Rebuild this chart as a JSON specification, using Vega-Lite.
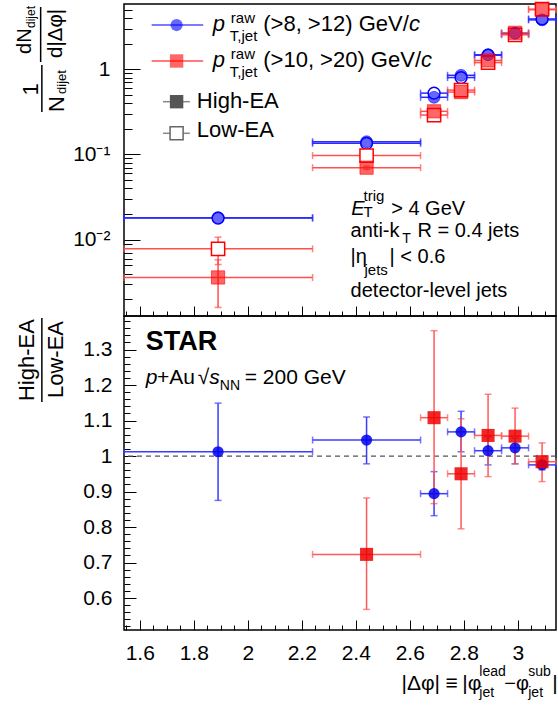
{
  "$schema": "https://vega.github.io/schema/vega-lite/v6.json",
  "background": "white",
  "padding": {"left": 14, "top": -2, "right": 0, "bottom": 0},
  "spacing": 0,
  "bounds": "flush",
  "config": {
    "font": "Liberation Sans",
    "view": {"stroke": "#000", "strokeWidth": 1.5},
    "axis": {"domain": false, "grid": false, "tickColor": "#000", "tickWidth": 1, "labelFont": "Liberation Sans", "labelFontSize": 21, "labelColor": "#000", "labelOverlap": false, "labelFlush": false, "labelBound": false, "labelSeparation": -100},
    "text": {"font": "Liberation Sans", "fontSize": 20, "align": "left", "baseline": "alphabetic", "color": "#000"}
  },
  "datasets": {
    "top": [
      {"s":"b","ea":"High","x":1.89,"xlo":1.5416,"xhi":2.24,"y":0.0181,"ylo":0.0176,"yhi":0.0186},
      {"s":"b","ea":"High","x":2.44,"xlo":2.24,"xhi":2.64,"y":0.141,"ylo":0.138,"yhi":0.144},
      {"s":"b","ea":"High","x":2.69,"xlo":2.64,"xhi":2.74,"y":0.469,"ylo":0.46,"yhi":0.478},
      {"s":"b","ea":"High","x":2.79,"xlo":2.74,"xhi":2.84,"y":0.85,"ylo":0.835,"yhi":0.865},
      {"s":"b","ea":"High","x":2.89,"xlo":2.84,"xhi":2.94,"y":1.48,"ylo":1.46,"yhi":1.5},
      {"s":"b","ea":"High","x":2.99,"xlo":2.94,"xhi":3.04,"y":2.65,"ylo":2.62,"yhi":2.68},
      {"s":"b","ea":"High","x":3.09,"xlo":3.04,"xhi":3.1416,"y":3.8,"ylo":3.76,"yhi":3.84},
      {"s":"b","ea":"Low","x":1.89,"xlo":1.5416,"xhi":2.24,"y":0.0179,"ylo":0.0174,"yhi":0.0184},
      {"s":"b","ea":"Low","x":2.44,"xlo":2.24,"xhi":2.64,"y":0.135,"ylo":0.132,"yhi":0.138},
      {"s":"b","ea":"Low","x":2.69,"xlo":2.64,"xhi":2.74,"y":0.525,"ylo":0.515,"yhi":0.535},
      {"s":"b","ea":"Low","x":2.79,"xlo":2.74,"xhi":2.84,"y":0.8,"ylo":0.786,"yhi":0.814},
      {"s":"b","ea":"Low","x":2.89,"xlo":2.84,"xhi":2.94,"y":1.46,"ylo":1.44,"yhi":1.48},
      {"s":"b","ea":"Low","x":2.99,"xlo":2.94,"xhi":3.04,"y":2.59,"ylo":2.56,"yhi":2.62},
      {"s":"b","ea":"Low","x":3.09,"xlo":3.04,"xhi":3.1416,"y":3.9,"ylo":3.86,"yhi":3.94},
      {"s":"r","ea":"High","x":1.89,"xlo":1.5416,"xhi":2.24,"y":0.0036,"ylo":0.0016,"yhi":0.0058},
      {"s":"r","ea":"High","x":2.44,"xlo":2.24,"xhi":2.64,"y":0.07,"ylo":0.067,"yhi":0.073},
      {"s":"r","ea":"High","x":2.69,"xlo":2.64,"xhi":2.74,"y":0.321,"ylo":0.313,"yhi":0.329},
      {"s":"r","ea":"High","x":2.79,"xlo":2.74,"xhi":2.84,"y":0.54,"ylo":0.528,"yhi":0.552},
      {"s":"r","ea":"High","x":2.89,"xlo":2.84,"xhi":2.94,"y":1.27,"ylo":1.25,"yhi":1.29},
      {"s":"r","ea":"High","x":2.99,"xlo":2.94,"xhi":3.04,"y":2.68,"ylo":2.65,"yhi":2.71},
      {"s":"r","ea":"High","x":3.09,"xlo":3.04,"xhi":3.1416,"y":5.0,"ylo":4.94,"yhi":5.06},
      {"s":"r","ea":"Low","x":1.89,"xlo":1.5416,"xhi":2.24,"y":0.0078,"ylo":0.0051,"yhi":0.0107},
      {"s":"r","ea":"Low","x":2.44,"xlo":2.24,"xhi":2.64,"y":0.097,"ylo":0.094,"yhi":0.1},
      {"s":"r","ea":"Low","x":2.69,"xlo":2.64,"xhi":2.74,"y":0.29,"ylo":0.283,"yhi":0.297},
      {"s":"r","ea":"Low","x":2.79,"xlo":2.74,"xhi":2.84,"y":0.57,"ylo":0.558,"yhi":0.582},
      {"s":"r","ea":"Low","x":2.89,"xlo":2.84,"xhi":2.94,"y":1.2,"ylo":1.18,"yhi":1.22},
      {"s":"r","ea":"Low","x":2.99,"xlo":2.94,"xhi":3.04,"y":2.54,"ylo":2.51,"yhi":2.57},
      {"s":"r","ea":"Low","x":3.09,"xlo":3.04,"xhi":3.1416,"y":5.08,"ylo":5.02,"yhi":5.14}
    ],
    "bot": [
      {"s":"b","x":1.89,"xlo":1.5416,"xhi":2.24,"y":1.012,"ylo":0.875,"yhi":1.149},
      {"s":"b","x":2.44,"xlo":2.24,"xhi":2.64,"y":1.045,"ylo":0.978,"yhi":1.11},
      {"s":"b","x":2.69,"xlo":2.64,"xhi":2.74,"y":0.894,"ylo":0.832,"yhi":0.956},
      {"s":"b","x":2.79,"xlo":2.74,"xhi":2.84,"y":1.068,"ylo":1.012,"yhi":1.126},
      {"s":"b","x":2.89,"xlo":2.84,"xhi":2.94,"y":1.015,"ylo":0.975,"yhi":1.054},
      {"s":"b","x":2.99,"xlo":2.94,"xhi":3.04,"y":1.023,"ylo":0.978,"yhi":1.05},
      {"s":"b","x":3.09,"xlo":3.04,"xhi":3.1416,"y":0.975,"ylo":0.961,"yhi":0.987},
      {"s":"r","x":2.44,"xlo":2.24,"xhi":2.64,"y":0.723,"ylo":0.568,"yhi":0.882},
      {"s":"r","x":2.69,"xlo":2.64,"xhi":2.74,"y":1.108,"ylo":0.866,"yhi":1.353},
      {"s":"r","x":2.79,"xlo":2.74,"xhi":2.84,"y":0.95,"ylo":0.795,"yhi":1.105},
      {"s":"r","x":2.89,"xlo":2.84,"xhi":2.94,"y":1.058,"ylo":0.942,"yhi":1.174},
      {"s":"r","x":2.99,"xlo":2.94,"xhi":3.04,"y":1.056,"ylo":0.978,"yhi":1.135},
      {"s":"r","x":3.09,"xlo":3.04,"xhi":3.1416,"y":0.984,"ylo":0.928,"yhi":1.037}
    ]
  },
  "vconcat": [
    {
      "width": 432,
      "height": 312,
      "data": {"name": "top"},
      "layer": [
        {
          "mark": {"type": "errorbar", "ticks": true, "size": 7, "thickness": 1.5},
          "encoding": {
            "x": {"field": "xlo", "type": "quantitative", "title": null,
                  "scale": {"domain": [1.5416, 3.1416], "nice": false, "zero": false},
                  "axis": {"title": null, "labels": false, "tickCount": 500, "labelOverlap": false, "labelFlush": false,
                           "values": [1.55,1.6,1.65,1.7,1.75,1.8,1.85,1.9,1.95,2,2.05,2.1,2.15,2.2,2.25,2.3,2.35,2.4,2.45,2.5,2.55,2.6,2.65,2.7,2.75,2.8,2.85,2.9,2.95,3,3.05,3.1],
                           "tickSize": {"condition": {"test": "abs(datum.value*5-round(datum.value*5))<0.001", "value": -10}, "value": -5}}},
            "x2": {"field": "xhi"},
            "y": {"field": "y", "type": "quantitative", "title": null,
                  "scale": {"type": "log", "domain": [0.00127, 5.84], "nice": false},
                  "axis": {"title": null, "tickCount": 500, "labelOverlap": false, "labelFlush": false, "labelSeparation": -100,
                           "values": [0.002,0.003,0.004,0.005,0.006,0.007,0.008,0.009,0.01,0.02,0.03,0.04,0.05,0.06,0.07,0.08,0.09,0.1,0.2,0.3,0.4,0.5,0.6,0.7,0.8,0.9,1,2,3,4,5],
                           "tickSize": {"condition": {"test": "datum.value==1||datum.value==0.1||datum.value==0.01", "value": -16}, "value": -8},
                           "labelFontSize": {"condition": {"test": "datum.value==1||datum.value==0.1||datum.value==0.01", "value": 21}, "value": 1},
                           "labelBaseline": {"condition": {"test": "datum.value==1||datum.value==0.1||datum.value==0.01", "value": "middle"}, "value": "top"},
                           "labelPadding": 30,
                           "labelExpr": "datum.value==1?'1':datum.value==0.1?'10⁻¹':datum.value==0.01?'10⁻²':''"}},
            "color": {"condition": {"test": "datum.s=='b'", "value": "#2b2bff"}, "value": "#ff5050"}
          }
        },
        {
          "mark": {"type": "errorbar", "ticks": true, "size": 7, "thickness": 1.5},
          "encoding": {
            "x": {"field": "x", "type": "quantitative", "title": null},
            "y": {"field": "ylo", "type": "quantitative", "title": null},
            "y2": {"field": "yhi"},
            "color": {"condition": {"test": "datum.s=='b'", "value": "#2b2bff"}, "value": "#ff5050"}
          }
        },
        {
          "transform": [{"filter": "datum.ea=='Low'"}],
          "mark": {"type": "point", "filled": true, "fill": "white", "strokeWidth": 1.5, "opacity": 1},
          "encoding": {
            "x": {"field": "x", "type": "quantitative", "title": null},
            "y": {"field": "y", "type": "quantitative", "title": null},
            "stroke": {"condition": {"test": "datum.s=='b'", "value": "#0000ff"}, "value": "#ff0000"},
            "shape": {"condition": {"test": "datum.s=='b'", "value": "circle"}, "value": "square"},
            "size": {"condition": {"test": "datum.s=='b'", "value": 140}, "value": 175}
          }
        },
        {
          "transform": [{"filter": "datum.ea=='High'"}],
          "mark": {"type": "point", "filled": true, "fillOpacity": 0.6, "strokeOpacity": 0.6, "strokeWidth": 1, "opacity": 1},
          "encoding": {
            "x": {"field": "x", "type": "quantitative", "title": null},
            "y": {"field": "y", "type": "quantitative", "title": null},
            "fill": {"condition": {"test": "datum.s=='b'", "value": "#0000ff"}, "value": "#ff0000"},
            "stroke": {"condition": {"test": "datum.s=='b'", "value": "#0000ff"}, "value": "#ff0000"},
            "shape": {"condition": {"test": "datum.s=='b'", "value": "circle"}, "value": "square"},
            "size": {"condition": {"test": "datum.s=='b'", "value": 140}, "value": 175}
          }
        },
        {"data": {"values": [{}]}, "mark": {"type": "rule", "color": "#7b7bff", "strokeWidth": 2}, "encoding": {"x": {"datum": 1.644}, "x2": {"datum": 1.8348}, "y": {"datum": 3.31}}},
        {"data": {"values": [{}]}, "mark": {"type": "point", "shape": "circle", "filled": true, "color": "#0000ff", "opacity": 0.6, "size": 150}, "encoding": {"x": {"datum": 1.7364}, "y": {"datum": 3.31}}},
        {"data": {"values": [{}]}, "mark": {"type": "rule", "color": "#ff7b7b", "strokeWidth": 2}, "encoding": {"x": {"datum": 1.644}, "x2": {"datum": 1.8348}, "y": {"datum": 1.2515}}},
        {"data": {"values": [{}]}, "mark": {"type": "point", "shape": "square", "filled": true, "color": "#ff0000", "opacity": 0.6, "size": 180}, "encoding": {"x": {"datum": 1.7364}, "y": {"datum": 1.2515}}},
        {"data": {"values": [{}]}, "mark": {"type": "rule", "color": "#888888", "strokeWidth": 1.5}, "encoding": {"x": {"datum": 1.6858}, "x2": {"datum": 1.7856}, "y": {"datum": 0.4166}}},
        {"data": {"values": [{}]}, "mark": {"type": "point", "shape": "square", "filled": true, "color": "#555555", "opacity": 1, "size": 180}, "encoding": {"x": {"datum": 1.7364}, "y": {"datum": 0.4166}}},
        {"data": {"values": [{}]}, "mark": {"type": "rule", "color": "#888888", "strokeWidth": 1.5}, "encoding": {"x": {"datum": 1.6858}, "x2": {"datum": 1.7856}, "y": {"datum": 0.1773}}},
        {"data": {"values": [{}]}, "mark": {"type": "point", "shape": "square", "filled": true, "fill": "white", "stroke": "#666666", "strokeWidth": 1.5, "opacity": 1, "size": 170}, "encoding": {"x": {"datum": 1.7364}, "y": {"datum": 0.1773}}},
        {"data": {"values": [{}]}, "mark": {"type": "text", "text": "p", "fontSize": 22, "fontStyle": "italic"}, "encoding": {"x": {"datum": 1.8706}, "y": {"datum": 2.815}}},
        {"data": {"values": [{}]}, "mark": {"type": "text", "text": "raw", "fontSize": 15}, "encoding": {"x": {"datum": 1.9372}, "y": {"datum": 3.494}}},
        {"data": {"values": [{}]}, "mark": {"type": "text", "text": "T,jet", "fontSize": 15}, "encoding": {"x": {"datum": 1.9335}, "y": {"datum": 2.148}}},
        {"data": {"values": [{}]}, "mark": {"type": "text", "text": "(>8, >12) GeV/", "fontSize": 22}, "encoding": {"x": {"datum": 2.0573}, "y": {"datum": 2.815}}},
        {"data": {"values": [{}]}, "mark": {"type": "text", "text": "c", "fontSize": 22, "fontStyle": "italic"}, "encoding": {"x": {"datum": 2.5971}, "y": {"datum": 2.815}}},
        {"data": {"values": [{}]}, "mark": {"type": "text", "text": "p", "fontSize": 22, "fontStyle": "italic"}, "encoding": {"x": {"datum": 1.8706}, "y": {"datum": 1.064}}},
        {"data": {"values": [{}]}, "mark": {"type": "text", "text": "raw", "fontSize": 15}, "encoding": {"x": {"datum": 1.9372}, "y": {"datum": 1.321}}},
        {"data": {"values": [{}]}, "mark": {"type": "text", "text": "T,jet", "fontSize": 15}, "encoding": {"x": {"datum": 1.9335}, "y": {"datum": 0.812}}},
        {"data": {"values": [{}]}, "mark": {"type": "text", "text": "(>10, >20) GeV/", "fontSize": 22}, "encoding": {"x": {"datum": 2.0573}, "y": {"datum": 1.064}}},
        {"data": {"values": [{}]}, "mark": {"type": "text", "text": "c", "fontSize": 22, "fontStyle": "italic"}, "encoding": {"x": {"datum": 2.6414}, "y": {"datum": 1.064}}},
        {"data": {"values": [{}]}, "mark": {"type": "text", "text": "High-EA", "fontSize": 22}, "encoding": {"x": {"datum": 1.8115}, "y": {"datum": 0.3513}}},
        {"data": {"values": [{}]}, "mark": {"type": "text", "text": "Low-EA", "fontSize": 22}, "encoding": {"x": {"datum": 1.8115}, "y": {"datum": 0.1618}}},
        {"data": {"values": [{}]}, "mark": {"type": "text", "text": "E", "fontStyle": "italic"}, "encoding": {"x": {"datum": 2.3834}, "y": {"datum": 0.0195}}},
        {"data": {"values": [{}]}, "mark": {"type": "text", "text": "trig", "fontSize": 15}, "encoding": {"x": {"datum": 2.4289}, "y": {"datum": 0.02846}}},
        {"data": {"values": [{}]}, "mark": {"type": "text", "text": "T", "fontSize": 15}, "encoding": {"x": {"datum": 2.4289}, "y": {"datum": 0.01822}}},
        {"data": {"values": [{}]}, "mark": {"type": "text", "text": "> 4 GeV"}, "encoding": {"x": {"datum": 2.5312}, "y": {"datum": 0.0195}}},
        {"data": {"values": [{}]}, "mark": {"type": "text", "text": "anti-k"}, "encoding": {"x": {"datum": 2.3808}, "y": {"datum": 0.01067}}},
        {"data": {"values": [{}]}, "mark": {"type": "text", "text": "T", "fontSize": 14}, "encoding": {"x": {"datum": 2.5719}, "y": {"datum": 0.009024}}},
        {"data": {"values": [{}]}, "mark": {"type": "text", "text": "R = 0.4 jets"}, "encoding": {"x": {"datum": 2.6285}, "y": {"datum": 0.01067}}},
        {"data": {"values": [{}]}, "mark": {"type": "text", "text": "|η"}, "encoding": {"x": {"datum": 2.3808}, "y": {"datum": 0.00533}}},
        {"data": {"values": [{}]}, "mark": {"type": "text", "text": "jets", "fontSize": 15}, "encoding": {"x": {"datum": 2.4324}, "y": {"datum": 0.003851}}},
        {"data": {"values": [{}]}, "mark": {"type": "text", "text": "| < 0.6"}, "encoding": {"x": {"datum": 2.525}, "y": {"datum": 0.00533}}},
        {"data": {"values": [{}]}, "mark": {"type": "text", "text": "detector-level jets"}, "encoding": {"x": {"datum": 2.3808}, "y": {"datum": 0.002143}}},
        {"data": {"values": [{}]}, "mark": {"type": "text", "text": "dN", "fontSize": 20, "angle": 270}, "encoding": {"x": {"datum": 1.1977}, "y": {"datum": 1.512}}},
        {"data": {"values": [{}]}, "mark": {"type": "text", "text": "dijet", "fontSize": 12, "angle": 270}, "encoding": {"x": {"datum": 1.2107}, "y": {"datum": 3.053}}},
        {"data": {"values": [{}]}, "mark": {"type": "rule", "color": "#000", "strokeWidth": 1.5}, "encoding": {"x": {"datum": 1.2329}, "y": {"datum": 5.385}, "y2": {"datum": 1.218}}},
        {"data": {"values": [{}]}, "mark": {"type": "text", "text": "d|Δφ|", "fontSize": 20.5, "angle": 270}, "encoding": {"x": {"datum": 1.3105}, "y": {"datum": 1.357}}},
        {"data": {"values": [{}]}, "mark": {"type": "text", "text": "1", "fontSize": 22, "angle": 270}, "encoding": {"x": {"datum": 1.2237}, "y": {"datum": 0.4926}}},
        {"data": {"values": [{}]}, "mark": {"type": "rule", "color": "#000", "strokeWidth": 1.5}, "encoding": {"x": {"datum": 1.2374}, "y": {"datum": 1.123}, "y2": {"datum": 0.3153}}},
        {"data": {"values": [{}]}, "mark": {"type": "text", "text": "N", "fontSize": 22, "angle": 270}, "encoding": {"x": {"datum": 1.3179}, "y": {"datum": 0.3153}}},
        {"data": {"values": [{}]}, "mark": {"type": "text", "text": "dijet", "fontSize": 13, "angle": 270}, "encoding": {"x": {"datum": 1.3272}, "y": {"datum": 0.5129}}}
      ]
    },
    {
      "width": 432,
      "height": 314,
      "data": {"name": "bot"},
      "layer": [
        {"data": {"values": [{}]}, "mark": {"type": "rule", "strokeDash": [5, 4], "color": "#555555", "strokeWidth": 1.2}, "encoding": {"y": {"datum": 1}}},
        {
          "mark": {"type": "errorbar", "ticks": true, "size": 7, "thickness": 1.5},
          "encoding": {
            "x": {"field": "xlo", "type": "quantitative", "title": null,
                  "scale": {"domain": [1.5416, 3.1416], "nice": false, "zero": false},
                  "axis": {"title": null, "tickCount": 500, "labelOverlap": false, "labelFlush": false, "labelBound": false, "labelSeparation": -100,
                           "values": [1.55,1.6,1.65,1.7,1.75,1.8,1.85,1.9,1.95,2,2.05,2.1,2.15,2.2,2.25,2.3,2.35,2.4,2.45,2.5,2.55,2.6,2.65,2.7,2.75,2.8,2.85,2.9,2.95,3,3.05,3.1],
                           "tickSize": {"condition": {"test": "abs(datum.value*5-round(datum.value*5))<0.001", "value": -10}, "value": -5},
                           "labelFontSize": {"condition": {"test": "abs(datum.value*5-round(datum.value*5))<0.001", "value": 21}, "value": 1},
                           "labelPadding": 22,
                           "labelExpr": "abs(datum.value*5-round(datum.value*5))<0.001 ? ('' + datum.value) : ''"}},
            "x2": {"field": "xhi"},
            "y": {"field": "y", "type": "quantitative", "title": null,
                  "scale": {"domain": [0.51, 1.3944], "nice": false, "zero": false},
                  "axis": {"title": null, "tickCount": 500, "labelOverlap": false, "labelFlush": false, "labelBound": false, "labelSeparation": -100,
                           "values": [0.52,0.54,0.56,0.58,0.6,0.62,0.64,0.66,0.68,0.7,0.72,0.74,0.76,0.78,0.8,0.82,0.84,0.86,0.88,0.9,0.92,0.94,0.96,0.98,1,1.02,1.04,1.06,1.08,1.1,1.12,1.14,1.16,1.18,1.2,1.22,1.24,1.26,1.28,1.3,1.32,1.34,1.36,1.38],
                           "tickSize": {"condition": {"test": "abs(datum.value*10-round(datum.value*10))<0.001", "value": -12}, "value": -6},
                           "labelFontSize": {"condition": {"test": "abs(datum.value*10-round(datum.value*10))<0.001", "value": 21}, "value": 1},
                           "labelPadding": 24,
                           "labelExpr": "abs(datum.value*10-round(datum.value*10))<0.001 ? ('' + datum.value) : ''"}},
            "color": {"condition": {"test": "datum.s=='b'", "value": "#3b3bff"}, "value": "#ff5a5a"}
          }
        },
        {
          "mark": {"type": "errorbar", "ticks": true, "size": 7, "thickness": 1.5},
          "encoding": {
            "x": {"field": "x", "type": "quantitative", "title": null},
            "y": {"field": "ylo", "type": "quantitative", "title": null},
            "y2": {"field": "yhi"},
            "color": {"condition": {"test": "datum.s=='b'", "value": "#3b3bff"}, "value": "#ff5a5a"}
          }
        },
        {
          "mark": {"type": "point", "filled": true, "opacity": 0.85, "strokeWidth": 0},
          "encoding": {
            "x": {"field": "x", "type": "quantitative", "title": null},
            "y": {"field": "y", "type": "quantitative", "title": null},
            "fill": {"condition": {"test": "datum.s=='b'", "value": "#0000ee"}, "value": "#ee0000"},
            "shape": {"condition": {"test": "datum.s=='b'", "value": "circle"}, "value": "square"},
            "size": {"condition": {"test": "datum.s=='b'", "value": 125}, "value": 170}
          }
        },
        {"data": {"values": [{}]}, "mark": {"type": "text", "text": "STAR", "fontSize": 27, "fontWeight": "bold"}, "encoding": {"x": {"datum": 1.6218}, "y": {"datum": 1.2986}}},
        {"data": {"values": [{}]}, "mark": {"type": "text", "text": "p", "fontSize": 21, "fontStyle": "italic"}, "encoding": {"x": {"datum": 1.6218}, "y": {"datum": 1.2028}}},
        {"data": {"values": [{}]}, "mark": {"type": "text", "text": "+Au", "fontSize": 21}, "encoding": {"x": {"datum": 1.6636}, "y": {"datum": 1.2028}}},
        {"data": {"values": [{}]}, "mark": {"type": "text", "text": "√", "fontSize": 21}, "encoding": {"x": {"datum": 1.8152}, "y": {"datum": 1.2028}}},
        {"data": {"values": [{}]}, "mark": {"type": "text", "text": "s", "fontSize": 21, "fontStyle": "italic"}, "encoding": {"x": {"datum": 1.8577}, "y": {"datum": 1.2028}}},
        {"data": {"values": [{}]}, "mark": {"type": "text", "text": "NN", "fontSize": 14}, "encoding": {"x": {"datum": 1.8965}, "y": {"datum": 1.1859}}},
        {"data": {"values": [{}]}, "mark": {"type": "text", "text": "= 200 GeV", "fontSize": 21}, "encoding": {"x": {"datum": 1.9889}, "y": {"datum": 1.2028}}},
        {"data": {"values": [{}]}, "mark": {"type": "text", "text": "High-EA", "fontSize": 22, "angle": 270}, "encoding": {"x": {"datum": 1.207}, "y": {"datum": 1.1549}}},
        {"data": {"values": [{}]}, "mark": {"type": "rule", "color": "#000", "strokeWidth": 1.5}, "encoding": {"x": {"datum": 1.2374}, "y": {"datum": 1.3887}, "y2": {"datum": 1.1521}}},
        {"data": {"values": [{}]}, "mark": {"type": "text", "text": "Low-EA", "fontSize": 22, "angle": 270}, "encoding": {"x": {"datum": 1.3154}, "y": {"datum": 1.1634}}},
        {"data": {"values": [{}]}, "mark": {"type": "text", "text": "|Δφ|", "fontSize": 21}, "encoding": {"x": {"datum": 2.5693}, "y": {"datum": 0.3408}}},
        {"data": {"values": [{}]}, "mark": {"type": "text", "text": "≡", "fontSize": 21}, "encoding": {"x": {"datum": 2.732}, "y": {"datum": 0.3408}}},
        {"data": {"values": [{}]}, "mark": {"type": "text", "text": "|φ", "fontSize": 21}, "encoding": {"x": {"datum": 2.7948}, "y": {"datum": 0.3408}}},
        {"data": {"values": [{}]}, "mark": {"type": "text", "text": "lead", "fontSize": 14}, "encoding": {"x": {"datum": 2.8577}, "y": {"datum": 0.3803}}},
        {"data": {"values": [{}]}, "mark": {"type": "text", "text": "jet", "fontSize": 14}, "encoding": {"x": {"datum": 2.8577}, "y": {"datum": 0.3211}}},
        {"data": {"values": [{}]}, "mark": {"type": "text", "text": "−φ", "fontSize": 20}, "encoding": {"x": {"datum": 2.9501}, "y": {"datum": 0.3408}}},
        {"data": {"values": [{}]}, "mark": {"type": "text", "text": "sub", "fontSize": 14}, "encoding": {"x": {"datum": 3.0388}, "y": {"datum": 0.3803}}},
        {"data": {"values": [{}]}, "mark": {"type": "text", "text": "jet", "fontSize": 14}, "encoding": {"x": {"datum": 3.0388}, "y": {"datum": 0.3211}}},
        {"data": {"values": [{}]}, "mark": {"type": "text", "text": "|", "fontSize": 21}, "encoding": {"x": {"datum": 3.1275}, "y": {"datum": 0.3408}}}
      ]
    }
  ]
}
